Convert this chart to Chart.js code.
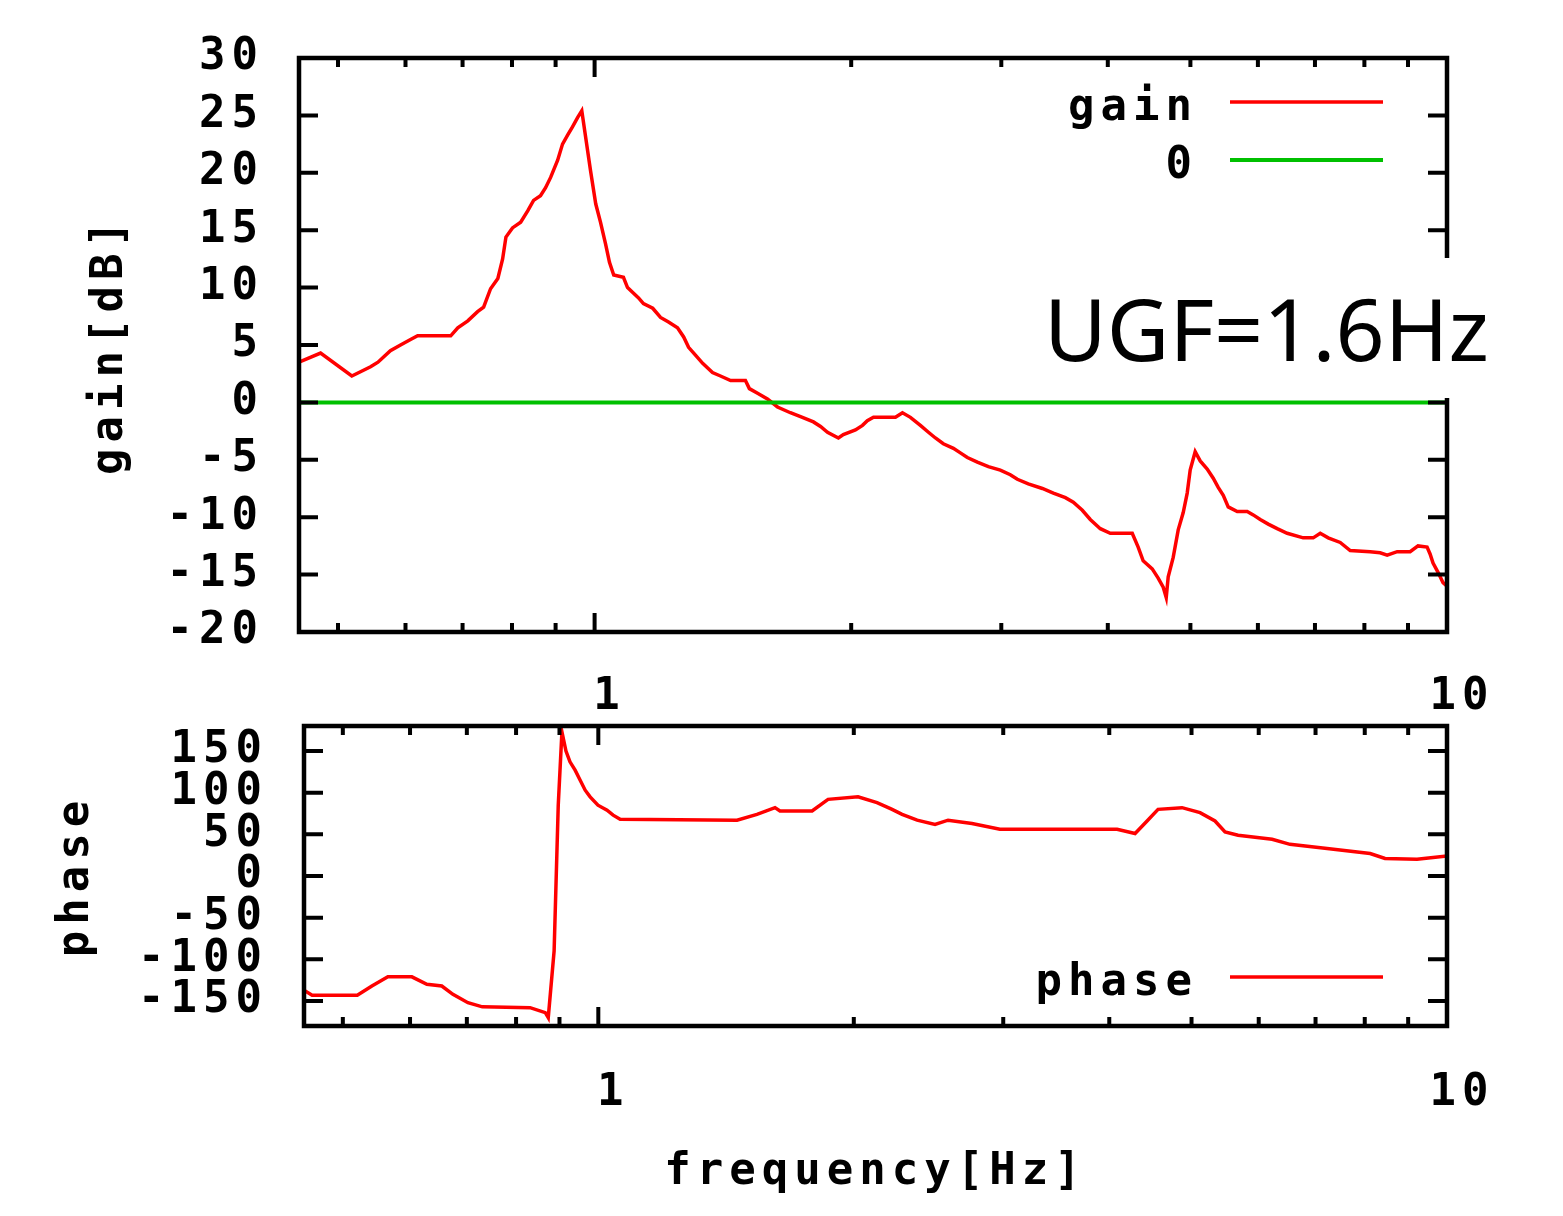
<!DOCTYPE html>
<html>
<head>
<meta charset="utf-8">
<script src="https://cdn.jsdelivr.net/npm/chart.js@4.4.1/dist/chart.umd.min.js"></script>
<style>
  html, body { margin: 0; padding: 0; background: #fff; }
  #wrap { position: relative; width: 1563px; height: 1216px; overflow: hidden; }
  canvas { position: absolute; left: 0; top: 0; }
  /* annotation box sits over the right border, like in the original */
  #ugf {
    position: absolute; left: 1040px; top: 258px; width: 470px; height: 140px;
    padding-left: 4px; box-sizing: border-box;
    background: #fff; color: #000;
    font-family: 'Noto Sans', sans-serif; font-size: 86px; line-height: 140px;
    white-space: nowrap;
  }
</style>
</head>
<body>
<div id="wrap">
  <canvas id="gainChart" width="1563" height="1216"></canvas>
  <canvas id="phaseChart" width="1563" height="1216"></canvas>
  <div id="ugf">UGF=1.6Hz</div>
</div>
<script>
// frequency axis (log), shared by both panels
const freqMin = 0.45;
const freqMax = 10;
const freqMajor = [1, 10];
const freqMinor = [0.5, 0.6, 0.7, 0.8, 0.9, 2, 3, 4, 5, 6, 7, 8, 9];

// y ticks
const gainTicks = [-20, -15, -10, -5, 0, 5, 10, 15, 20, 25, 30];
const phaseTicks = [-150, -100, -50, 0, 50, 100, 150];

// gain curve [Hz] / [dB]
const gainFreq = [0.45, 0.477, 0.519, 0.546, 0.557, 0.576, 0.592, 0.609, 0.620, 0.678,
  0.691, 0.710, 0.729, 0.741, 0.755, 0.770, 0.780, 0.787, 0.801, 0.819,
  0.835, 0.848, 0.864, 0.876, 0.888, 0.905, 0.917, 0.930, 0.942, 0.955,
  0.966, 0.989, 1.003, 1.016, 1.030, 1.041, 1.053, 1.081, 1.093, 1.111,
  1.126, 1.141, 1.170, 1.195, 1.221, 1.251, 1.272, 1.289, 1.314, 1.339,
  1.375, 1.405, 1.444, 1.503, 1.519, 1.553, 1.595, 1.639, 1.697, 1.753,
  1.806, 1.841, 1.876, 1.932, 1.958, 2.023, 2.062, 2.089, 2.124, 2.254,
  2.297, 2.347, 2.411, 2.464, 2.511, 2.565, 2.636, 2.686, 2.737, 2.812,
  2.897, 2.992, 3.074, 3.133, 3.227, 3.352, 3.453, 3.567, 3.644, 3.734,
  3.815, 3.920, 4.027, 4.273, 4.342, 4.401, 4.510, 4.583, 4.646, 4.684,
  4.709, 4.773, 4.838, 4.904, 4.957, 4.997, 5.065, 5.134, 5.232, 5.318,
  5.390, 5.464, 5.538, 5.674, 5.829, 5.925, 6.038, 6.170, 6.321, 6.494,
  6.781, 6.967, 7.100, 7.255, 7.494, 7.699, 8.125, 8.347, 8.508, 8.741,
  9.052, 9.247, 9.476, 9.553, 9.630, 9.761, 9.893, 10.0];
const gainDb = [3.5, 4.3, 2.3, 3.1, 3.5, 4.5, 5.0, 5.5, 5.8, 5.8,
  6.5, 7.1, 7.9, 8.3, 9.9, 10.8, 12.5, 14.4, 15.2, 15.7,
  16.7, 17.6, 18.0, 18.7, 19.6, 21.1, 22.5, 23.3, 24.0, 24.8,
  25.4, 20.2, 17.3, 15.7, 13.8, 12.2, 11.1, 10.9, 10.0, 9.5,
  9.1, 8.6, 8.2, 7.4, 7.0, 6.5, 5.7, 4.8, 4.1, 3.4,
  2.6, 2.3, 1.9, 1.9, 1.2, 0.8, 0.3, -0.4, -0.9, -1.3,
  -1.7, -2.1, -2.6, -3.1, -2.8, -2.4, -2.0, -1.6, -1.3, -1.3,
  -0.9, -1.3, -2.0, -2.6, -3.1, -3.6, -4.0, -4.4, -4.8, -5.2,
  -5.6, -5.9, -6.3, -6.7, -7.1, -7.5, -7.9, -8.3, -8.7, -9.4,
  -10.2, -11.0, -11.4, -11.4, -12.6, -13.8, -14.5, -15.3, -16.1, -17.0,
  -15.2, -13.5, -11.1, -9.6, -7.9, -5.9, -4.3, -5.1, -5.8, -6.6,
  -7.4, -8.1, -9.1, -9.5, -9.5, -9.8, -10.2, -10.6, -11.0, -11.4,
  -11.8, -11.8, -11.4, -11.8, -12.2, -12.9, -13.0, -13.1, -13.3, -13.0,
  -13.0, -12.5, -12.6, -13.2, -14.0, -14.8, -15.7, -16.0];

// 0 dB reference
const zeroFreq = [0.45, 10];
const zeroDb = [0, 0];

// phase curve [Hz] / [deg]
const phaseFreq = [0.45, 0.460, 0.520, 0.541, 0.565, 0.603, 0.628, 0.654, 0.674, 0.702,
  0.730, 0.831, 0.866, 0.873, 0.887, 0.897, 0.906, 0.916, 0.926, 0.939,
  0.952, 0.965, 0.978, 0.999, 1.024, 1.041, 1.061, 1.457, 1.538, 1.615,
  1.637, 1.786, 1.865, 2.023, 2.130, 2.219, 2.280, 2.375, 2.493, 2.583,
  2.756, 2.973, 4.086, 4.290, 4.432, 4.566, 4.873, 5.117, 5.329, 5.476,
  5.673, 6.222, 6.531, 7.223, 8.118, 8.452, 9.219, 10.0];
const phaseDeg = [-137, -143, -143, -132, -121, -121, -130, -132, -142, -152,
  -157, -158, -164, -170, -90, 85, 173, 150, 137, 127,
  115, 103, 95, 85, 79, 73, 68, 67, 74, 82,
  78, 78, 92, 95, 88, 80, 74, 67, 62, 67,
  63, 56, 56, 51, 66, 80, 82, 76, 66, 53,
  49, 44, 38, 33, 27, 21, 20, 24];

const pts = (xs, ys) => xs.map((x, i) => ({ x, y: ys[i] }));

const gnuFont = { family: "'DejaVu Sans Mono', monospace", size: 44, weight: 'bold' };
const gnuFontCss = "bold 44px 'DejaVu Sans Mono', monospace";
const gnuSpacing = 6; // gnuplot's bitmap font is wider than DejaVu Mono

// gnuplot-like frame: border, inward ticks on all sides, key in the corner
const gnuFrame = {
  id: 'gnuFrame',
  beforeDraw(chart) {
    chart.ctx.letterSpacing = gnuSpacing + 'px';
  },
  afterDatasetsDraw(chart, args, opts) {
    const { ctx, chartArea: a, scales: { x, y } } = chart;
    ctx.save();
    ctx.strokeStyle = '#000';
    ctx.lineWidth = 4;
    ctx.beginPath();
    const xTick = (v, len) => {
      const px = x.getPixelForValue(v);
      ctx.moveTo(px, a.bottom); ctx.lineTo(px, a.bottom - len);
      ctx.moveTo(px, a.top); ctx.lineTo(px, a.top + len);
    };
    freqMajor.forEach(v => xTick(v, 19));
    freqMinor.forEach(v => xTick(v, 9));
    opts.yTicks.forEach(v => {
      const py = y.getPixelForValue(v);
      ctx.moveTo(a.left, py); ctx.lineTo(a.left + 19, py);
      ctx.moveTo(a.right, py); ctx.lineTo(a.right - 19, py);
    });
    ctx.stroke();
    ctx.lineWidth = 4.5;
    ctx.strokeRect(a.left, a.top, a.right - a.left, a.bottom - a.top);

    // key
    ctx.font = gnuFontCss;
    ctx.textAlign = 'right';
    ctx.textBaseline = 'alphabetic';
    ctx.fillStyle = '#000';
    chart.data.datasets.forEach((ds, i) => {
      const rowY = opts.keyRows[i];
      ctx.fillText(ds.label, opts.keyTextRight + gnuSpacing, rowY + 18);
      ctx.strokeStyle = ds.borderColor;
      ctx.lineWidth = ds.borderWidth;
      ctx.beginPath();
      ctx.moveTo(opts.keyLine[0], rowY);
      ctx.lineTo(opts.keyLine[1], rowY);
      ctx.stroke();
    });
    ctx.restore();
  }
};

function xAxis(heightPx, tickPad, title) {
  return {
    type: 'logarithmic',
    min: freqMin,
    max: freqMax,
    grid: { display: false },
    border: { display: false },
    afterBuildTicks: s => { s.ticks = freqMajor.map(v => ({ value: v })); },
    afterFit: s => { s.height = heightPx; s.paddingLeft = 0; s.paddingRight = 0; },
    ticks: {
      color: '#000', font: gnuFont, padding: tickPad, labelOffset: 15,
      maxRotation: 0, autoSkip: false,
      callback: v => String(v)
    },
    title: title
  };
}

function yAxis(widthPx, tickVals, min, max, title, titlePad, tickPad) {
  return {
    type: 'linear',
    min: min,
    max: max,
    grid: { display: false },
    border: { display: false },
    afterBuildTicks: s => { s.ticks = tickVals.map(v => ({ value: v })); },
    // fixed width, and no extra room for the end labels (layout padding places the frame)
    afterFit: s => { s.width = widthPx; s.paddingTop = 0; s.paddingBottom = 0; },
    ticks: { color: '#000', font: gnuFont, padding: tickPad, autoSkip: false },
    title: { display: true, text: title, color: '#000', font: gnuFont, padding: { top: titlePad, bottom: 0 } }
  };
}

const commonLine = { pointRadius: 0, tension: 0, borderJoinStyle: 'miter', fill: false };

// top panel: gain
new Chart(document.getElementById('gainChart').getContext('2d'), {
  type: 'line',
  data: {
    datasets: [
      Object.assign({ label: 'gain', data: pts(gainFreq, gainDb), borderColor: '#ff0000', borderWidth: 3.5, order: 1 }, commonLine),
      Object.assign({ label: '0', data: pts(zeroFreq, zeroDb), borderColor: '#00c000', borderWidth: 4, order: 0 }, commonLine)
    ]
  },
  options: {
    responsive: false,
    animation: false,
    events: [],
    layout: { padding: { left: 0, top: 58, right: 116, bottom: 504 } },
    plugins: {
      legend: { display: false },
      tooltip: { enabled: false },
      gnuFrame: { yTicks: gainTicks, keyRows: [102, 160], keyTextRight: 1192, keyLine: [1230, 1383] }
    },
    scales: {
      x: xAxis(80, 31, { display: false }),
      y: yAxis(299, gainTicks, -20, 30, 'gain[dB]', 84, 27)
    }
  },
  plugins: [gnuFrame]
});

// bottom panel: phase
new Chart(document.getElementById('phaseChart').getContext('2d'), {
  type: 'line',
  data: {
    datasets: [
      Object.assign({ label: 'phase', data: pts(phaseFreq, phaseDeg), borderColor: '#ff0000', borderWidth: 3.5 }, commonLine)
    ]
  },
  options: {
    responsive: false,
    animation: false,
    events: [],
    layout: { padding: { left: 0, top: 726, right: 116, bottom: 0 } },
    plugins: {
      legend: { display: false },
      tooltip: { enabled: false },
      gnuFrame: { yTicks: phaseTicks, keyRows: [977], keyTextRight: 1192, keyLine: [1230, 1383] }
    },
    scales: {
      x: xAxis(190, 33, { display: true, text: 'frequency[Hz]', color: '#000', font: gnuFont, padding: { top: 0, bottom: 17 } }),
      y: yAxis(304, phaseTicks, -180, 180, 'phase', 50, 28)
    }
  },
  plugins: [gnuFrame]
});
</script>
</body>
</html>
